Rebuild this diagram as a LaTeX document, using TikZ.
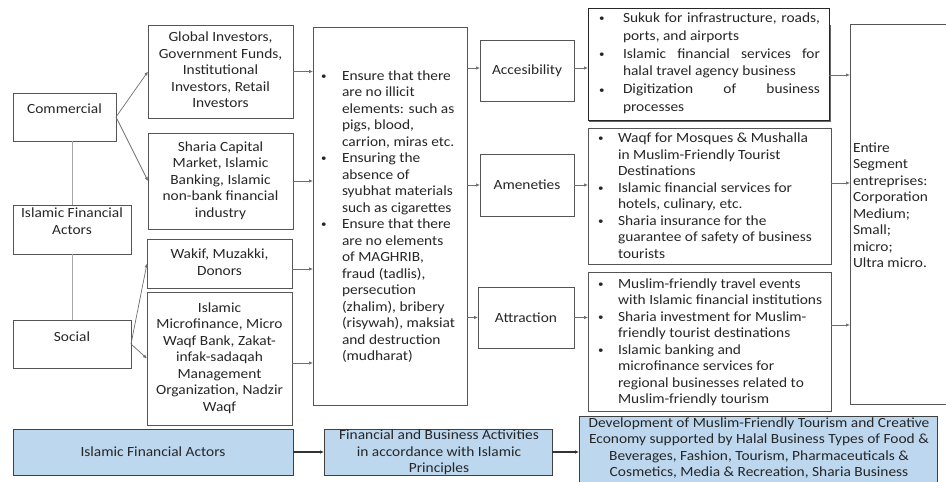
\documentclass[tikz,border=0pt]{standalone}
\usepackage{fontspec}
\setmainfont{Carlito}[FakeStretch=1.1]
\usetikzlibrary{arrows.meta}
\definecolor{tx}{HTML}{262626}
\definecolor{bd}{HTML}{555555}
\definecolor{ln}{HTML}{6E6E6E}
\definecolor{vl}{HTML}{A6A6A6}
\definecolor{lb}{HTML}{BDD7EE}
\newcommand\fsz{\fontsize{14}{16.5}\selectfont}
\newcommand\bul{\raisebox{0.6pt}{\fontsize{10}{10}\selectfont\textbullet}}
\newcommand\bi[1][21pt]{\makebox[#1][l]{\bul}}
\newcommand\ct[1]{\begin{tabular}{@{}c@{}}#1\end{tabular}}
\begin{document}
\begin{tikzpicture}[x=1pt,y=-1pt,
  box/.style={draw=bd, line width=0.8pt, inner sep=0pt, outer sep=0pt, text=tx, font=\fsz},
  bbox/.style={draw=black!75, line width=0.9pt, fill=lb, inner sep=0pt, outer sep=0pt},
  txt/.style={inner sep=0pt, outer sep=0pt, text=tx, font=\fsz},
  arr/.style={draw=ln, line width=0.7pt, -{Latex[length=4pt,width=3.4pt]}},
  barr/.style={draw=black!80, line width=1.3pt, -{Latex[length=4pt,width=3.6pt]}},
  vline/.style={draw=vl, line width=1pt}]
\useasboundingbox (0,0) rectangle (946,482);

% left column
\node[box, minimum width=103, minimum height=48] (comm) at (64.5,117) {};
\node[txt] (commt) at (64.5,109) {Commercial};
\node[box, minimum width=118, minimum height=49] (ifa) at (72,229.5) {};
\node[txt] (ifat) at (72,222.5) {\ct{Islamic Financial\\Actors}};
\node[box, minimum width=118, minimum height=48] (soc) at (72,344) {};
\node[txt] (soct) at (72,337) {Social};
\draw[vline] (ifa.north |- comm.south) -- (ifa.north);
\draw[vline] (ifa.south) -- (soc.north);

% second column
\node[box, minimum width=145, minimum height=93] (glob) at (220.5,71.5)
  {\ct{Global Investors,\\Government Funds,\\Institutional\\Investors, Retail\\Investors}};
\node[box, minimum width=145, minimum height=96] (shar) at (220.5,181)
  {\ct{Sharia Capital\\Market, Islamic\\Banking, Islamic\\non-bank financial\\industry}};
\node[box, minimum width=145, minimum height=49] (wak) at (219.5,263.5)
  {\ct{Wakif, Muzakki,\\Donors}};
\node[box, minimum width=145, minimum height=133] (mic) at (219.5,358.5)
  {\ct{Islamic\\Microfinance, Micro\\Waqf Bank, Zakat-\\infak-sadaqah\\Management\\Organization, Nadzir\\Waqf}};
\draw[arr] (comm.east) -- (glob.west);
\draw[arr] (comm.east) -- (shar.west);
\draw[arr] (soc.east) -- (wak.west);
\draw[arr] (soc.east) -- (mic.west);

% big middle box
\node[box, minimum width=154, minimum height=378] (big) at (390,216) {};
\node[txt, anchor=west] (bigt) at (321,217) {\begin{tabular}{@{}l@{}l@{}}
\bi & Ensure that there\\ & are no illicit\\ & elements: such as\\ & pigs, blood,\\ & carrion, miras etc.\\
\bi & Ensuring the\\ & absence of\\ & syubhat materials\\ & such as cigarettes\\
\bi & Ensure that there\\ & are no elements\\ & of MAGHRIB,\\ & fraud (tadlis),\\ & persecution\\ & (zhalim), bribery\\ & (risywah), maksiat\\ & and destruction\\ & (mudharat)
\end{tabular}};
\draw[arr] (glob.east) -- (glob.east -| big.west);
\draw[arr] (shar.east) -- (shar.east -| big.west);
\draw[arr] ([yshift=-5.5pt]wak.east) -- ([yshift=-5.5pt]wak.east -| big.west);
\draw[arr] ([yshift=-4.5pt]mic.east) -- ([yshift=-4.5pt]mic.east -| big.west);

% fourth column
\node[box, minimum width=94, minimum height=61] (acc) at (527,70.5) {Accesibility};
\node[box, minimum width=94, minimum height=62] (amen) at (527,185) {Ameneties};
\node[box, minimum width=96, minimum height=61] (attr) at (526,317.5) {Attraction};
\draw[arr] ([yshift=2.5pt]acc.west -| big.east) -- ([yshift=2.5pt]acc.west);
\draw[arr] (amen.west -| big.east) -- (amen.west);
\draw[arr] (attr.west -| big.east) -- (attr.west);

% fifth column
\draw[black!60, line width=1.6pt] (829.8,25) -- (829.8,120.8) -- (589,120.8);
\node[box, draw=black!85, minimum width=241, minimum height=112] (suk) at (708.5,64) {};
\node[txt, anchor=west, font=\fontsize{14}{17.8}\selectfont] (sukt) at (599,63.5) {\begin{tabular}{@{}l@{}l@{}}
\bi[24pt] & \makebox[197pt][s]{Sukuk for infrastructure, roads,}\\ & ports, and airports\\
\bi[24pt] & \makebox[197pt][s]{Islamic financial services for}\\ & halal travel agency business\\
\bi[24pt] & \makebox[197pt][s]{Digitization of business}\\ & processes
\end{tabular}};
\node[box, minimum width=243, minimum height=136] (waq) at (709.5,196) {};
\node[txt, anchor=west] (waqt) at (598,197) {\begin{tabular}{@{}l@{}l@{}}
\bi[20pt] & Waqf for Mosques \& Mushalla\\ & in Muslim-Friendly Tourist\\ & Destinations\\
\bi[20pt] & Islamic financial services for\\ & hotels, culinary, etc.\\
\bi[20pt] & Sharia insurance for the\\ & guarantee of safety of business\\ & tourists
\end{tabular}};
\node[box, minimum width=243, minimum height=139] (mus) at (709.5,341.5) {};
\node[txt, anchor=west] (must) at (598,342.5) {\begin{tabular}{@{}l@{}l@{}}
\bi[20pt] & Muslim-friendly travel events\\ & with Islamic financial institutions\\
\bi[20pt] & Sharia investment for Muslim-\\ & friendly tourist destinations\\
\bi[20pt] & Islamic banking and\\ & microfinance services for\\ & regional businesses related to\\ & Muslim-friendly tourism
\end{tabular}};
\draw[arr] ([yshift=2.5pt]acc.east) -- ([yshift=2.5pt]acc.east -| suk.west);
\draw[arr] (amen.east) -- (amen.east -| waq.west);
\draw[arr] (attr.east) -- (attr.east -| mus.west);

% right box
\node[box, minimum width=102, minimum height=380] (ent) at (901,214) {};
\node[txt, anchor=west] (entt) at (853,206.5) {\begin{tabular}{@{}l@{}}Entire\\Segment\\entreprises:\\Corporation\\Medium;\\Small;\\micro;\\Ultra micro.\end{tabular}};
\draw[arr] ([yshift=-11pt]suk.east) -- ([yshift=-11pt]suk.east -| ent.west);
\draw[arr] ([yshift=13pt]waq.east) -- ([yshift=13pt]waq.east -| ent.west);
\draw[arr] ([yshift=16.5pt]mus.east) -- ([yshift=16.5pt]mus.east -| ent.west);

% bottom row
\node[bbox, minimum width=280, minimum height=46] (b1) at (153,452) {};
\node[txt] (b1t) at (153,452) {Islamic Financial Actors};
\node[bbox, minimum width=228, minimum height=46] (b2) at (438,452) {};
\node[txt] (b2t) at (439,453) {\ct{Financial and Business Activities\\in accordance with Islamic\\Principles}};
\node[bbox, minimum width=358, minimum height=71] (b3) at (758,451.5) {};
\node[txt] (b3t) at (759,448.5) {\ct{Development of Muslim-Friendly Tourism and Creative\\Economy supported by Halal Business Types of Food \&\\Beverages, Fashion, Tourism, Pharmaceuticals \&\\Cosmetics, Media \& Recreation, Sharia Business}};
\draw[barr] (b1.east) -- (b2.west);
\draw[barr] (b2.east) -- (b2.east -| b3.west);
\end{tikzpicture}
\end{document}
